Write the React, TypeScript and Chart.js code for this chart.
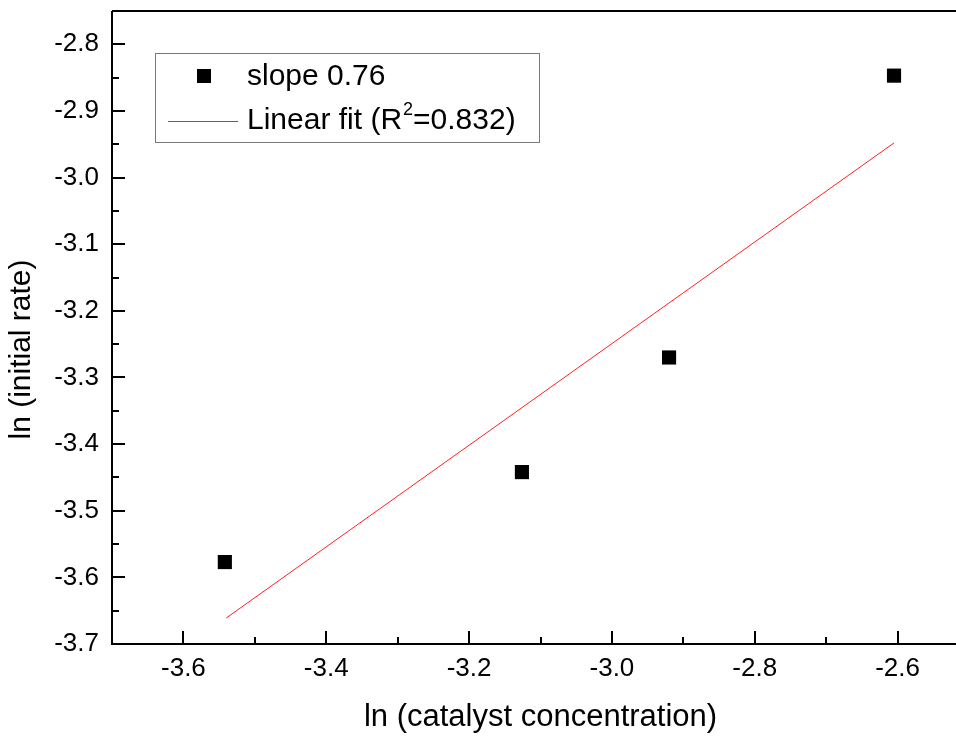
import React, { useEffect, useRef } from "react";
import { Chart, registerables } from "chart.js";

Chart.register(...registerables);

// ---- data ----
const seriesLabel = "slope 0.76";
const fitLabel = "Linear fit (R²=0.832)";
const xTitle = "ln (catalyst concentration)";
const yTitle = "ln (initial rate)";
const lnCatalyst = [-3.542, -3.126, -2.92, -2.605];
const lnRate = [-3.577, -3.442, -3.27, -2.847];
const fitX = [-3.54, -2.605];
const fitY = [-3.661, -2.948];
const xTickLabels = [-3.6, -3.4, -3.2, -3.0, -2.8, -2.6];
const xMinorTicks = [-3.7, -3.5, -3.3, -3.1, -2.9, -2.7, -2.5];
const yTickLabels = [-3.7, -3.6, -3.5, -3.4, -3.3, -3.2, -3.1, -3.0, -2.9, -2.8];
const yMinorTicks = [-3.65, -3.55, -3.45, -3.35, -3.25, -3.15, -3.05, -2.95, -2.85, -2.75];

const FONT = "'Liberation Sans', Arial, sans-serif";

function drawWithSuperscript(ctx: any, text: string, x: number, y: number, size: number) {
  const parts = text.split("²");
  let cx = x;
  parts.forEach((part, i) => {
    ctx.font = `${size}px ${FONT}`;
    ctx.fillText(part, cx, y);
    cx += ctx.measureText(part).width;
    if (i < parts.length - 1) {
      const small = Math.round(size * 0.6);
      ctx.font = `${small}px ${FONT}`;
      ctx.fillText("2", cx + 1, y - size * 0.38);
      cx += ctx.measureText("2").width + 1;
    }
  });
}

const framePlugin = {
  id: "frame",
  afterDraw(chart: any) {
    const { ctx, chartArea } = chart;
    const xs = chart.scales.x;
    const ys = chart.scales.y;
    ctx.save();
    ctx.strokeStyle = "#000";
    ctx.lineWidth = 2;
    ctx.beginPath();
    ctx.moveTo(chartArea.left, chartArea.top);
    ctx.lineTo(chartArea.right, chartArea.top);
    ctx.lineTo(chartArea.right, chartArea.bottom);
    ctx.lineTo(chartArea.left, chartArea.bottom);
    ctx.lineTo(chartArea.left, chartArea.top);
    ctx.stroke();
    // inward ticks
    const major = 13;
    const minor = 7;
    ctx.beginPath();
    xTickLabels.forEach((v) => {
      const p = Math.round(xs.getPixelForValue(v));
      ctx.moveTo(p, chartArea.bottom);
      ctx.lineTo(p, chartArea.bottom - major);
    });
    xMinorTicks.forEach((v) => {
      const p = Math.round(xs.getPixelForValue(v));
      ctx.moveTo(p, chartArea.bottom);
      ctx.lineTo(p, chartArea.bottom - minor);
    });
    yTickLabels.forEach((v) => {
      const p = Math.round(ys.getPixelForValue(v));
      ctx.moveTo(chartArea.left, p);
      ctx.lineTo(chartArea.left + major, p);
    });
    yMinorTicks.forEach((v) => {
      const p = Math.round(ys.getPixelForValue(v));
      ctx.moveTo(chartArea.left, p);
      ctx.lineTo(chartArea.left + minor, p);
    });
    ctx.stroke();

    // y axis title
    ctx.fillStyle = "#000";
    ctx.font = `30px ${FONT}`;
    ctx.textAlign = "center";
    ctx.textBaseline = "middle";
    ctx.save();
    ctx.translate(22, (chartArea.top + chartArea.bottom) / 2 + 22);
    ctx.rotate(-Math.PI / 2);
    ctx.fillText(yTitle, 0, 0);
    ctx.restore();

    // legend
    const bx = chartArea.left + 43;
    const by = chartArea.top + 42;
    const bw = 384;
    const bh = 89;
    ctx.lineWidth = 1;
    ctx.strokeStyle = "#7a7a7a";
    ctx.strokeRect(bx + 0.5, by + 0.5, bw, bh);
    ctx.font = `30px ${FONT}`;
    ctx.textBaseline = "middle";
    ctx.textAlign = "left";
    ctx.fillStyle = "#000";
    const ds0 = chart.data.datasets[0];
    const ds1 = chart.data.datasets[1];
    const row1 = by + 23;
    const row2 = by + 68;
    ctx.fillRect(bx + 42, row1 - 7, 14, 14);
    ctx.fillText(ds0.label, bx + 92, row1 + 1);
    ctx.strokeStyle = ds1.borderColor;
    ctx.beginPath();
    ctx.moveTo(bx + 13, row2 + 0.5);
    ctx.lineTo(bx + 83, row2 + 0.5);
    ctx.stroke();
    drawWithSuperscript(ctx, ds1.label, bx + 92, row2, 30);
    ctx.restore();
  },
};

export default function App() {
  const ref = useRef<HTMLCanvasElement | null>(null);
  useEffect(() => {
    if (!ref.current) return;
    const chart = new Chart(ref.current, {
      type: "scatter",
      data: {
        datasets: [
          {
            label: seriesLabel,
            data: lnCatalyst.map((x, i) => ({ x, y: lnRate[i] })),
            pointStyle: "rect",
            pointRadius: 10,
            pointHoverRadius: 10,
            backgroundColor: "#000",
            borderColor: "#000",
            borderWidth: 0,
            showLine: false,
          },
          {
            label: fitLabel,
            type: "line",
            data: fitX.map((x, i) => ({ x, y: fitY[i] })),
            borderColor: "#ff2020",
            borderWidth: 1,
            pointRadius: 0,
            fill: false,
          } as any,
        ],
      },
      options: {
        responsive: false,
        animation: false,
        layout: { padding: { top: 11, right: 11, left: 0, bottom: 0 } },
        plugins: { legend: { display: false }, tooltip: { enabled: false } },
        scales: {
          x: {
            type: "linear",
            min: -3.7,
            max: -2.5,
            afterBuildTicks: (s: any) => {
              s.ticks = xTickLabels.map((v) => ({ value: v }));
            },
            afterFit: (s: any) => {
              s.height = 92;
              s.paddingLeft = 0;
              s.paddingRight = 0;
            },
            grid: { display: false, drawTicks: false, tickLength: 0 },
            border: { display: false },
            ticks: {
              color: "#000",
              font: { family: FONT, size: 26 },
              padding: 9,
              maxRotation: 0,
              callback: (v: any) => Number(v).toFixed(1),
            },
            title: {
              display: true,
              text: xTitle,
              color: "#000",
              font: { family: FONT, size: 31 },
              padding: { top: 0, bottom: 0 },
            },
          },
          y: {
            type: "linear",
            min: -3.7,
            max: -2.75,
            afterBuildTicks: (s: any) => {
              s.ticks = yTickLabels.map((v) => ({ value: v }));
            },
            afterFit: (s: any) => {
              s.width = 112;
              s.paddingTop = 0;
              s.paddingBottom = 0;
            },
            grid: { display: false, drawTicks: false, tickLength: 0 },
            border: { display: false },
            ticks: {
              color: "#000",
              font: { family: FONT, size: 26 },
              padding: 13,
              callback: (v: any) => Number(v).toFixed(1),
            },
            title: { display: false },
          },
        },
      },
      plugins: [framePlugin],
    });
    return () => chart.destroy();
  }, []);
  return (
    <div
      style={{
        position: "fixed",
        left: 0,
        top: 0,
        width: 956,
        height: 736,
        overflow: "hidden",
        background: "#fff",
      }}
    >
      <canvas ref={ref} width={980} height={736} style={{ display: "block" }} />
    </div>
  );
}
